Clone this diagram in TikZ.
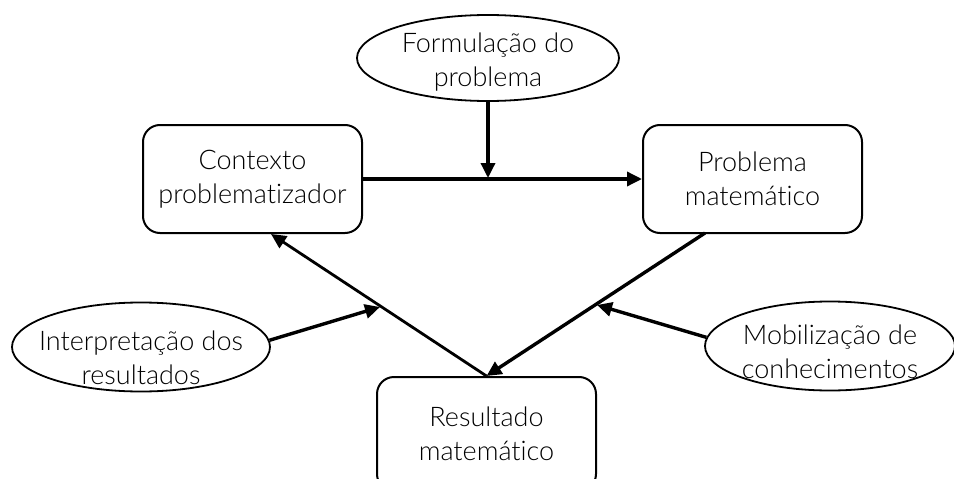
\documentclass[tikz,border=0pt]{standalone}
\usepackage{fontspec}
\setmainfont{Lato Light}[Ligatures=NoCommon]
\usetikzlibrary{shapes.geometric,arrows.meta}

\begin{document}
\begin{tikzpicture}
  [x=1pt,y=-1pt,
   every node/.style={align=center,font=\fontsize{27}{34}\selectfont,inner sep=0pt},
   caixa/.style={draw,line width=2pt,rounded corners=17pt,minimum width=219pt,minimum height=108pt},
   elipse/.style={draw,ellipse,line width=1.8pt,minimum height=89pt},
   seta/.style={line width=3.4pt,-{Triangle[length=15pt,width=14pt]}}]
  \useasboundingbox (0,0) rectangle (954,479);

  \node[caixa] (ctx) at (252.5,179) {Contexto\\problematizador};
  \node[caixa] (prob) at (752.5,179) {Problema\\matemático};
  \node[caixa,minimum height=114pt] (res) at (486.5,434) {Resultado\\matemático};

  % elipses com o texto um pouco abaixo do centro
  \node[elipse,minimum width=262pt,minimum height=86pt] (form) at (488,58) {};
  \node[yshift=-4pt] (formtxt) at (form) {Formulação do\\problema};
  \node[elipse,minimum width=258pt] (interp) at (141,347) {};
  \node[yshift=-11pt] (interptxt) at (interp) {Interpretação dos\\resultados};
  \node[elipse,minimum width=250pt] (mob) at (830,346) {};
  \node[yshift=-6pt] (mobtxt) at (mob) {Mobilização de\\conhecimentos};

  \coordinate (m1) at (488,178);
  \coordinate (c1) at (271,234);
  \coordinate (p1) at (705,233);
  \coordinate (i1) at (380,307);
  \coordinate (o1) at (597,305);

  \draw[seta] (ctx) -- (prob);
  \draw[seta] (form) -- (m1);
  \draw[seta,line width=2.8pt] (res.north) -- (c1);
  \draw[seta] (p1) -- (res.north);
  \draw[seta] (interp.3) -- (i1);
  \draw[seta] (mob.176) -- (o1);

\end{tikzpicture}
\end{document}
